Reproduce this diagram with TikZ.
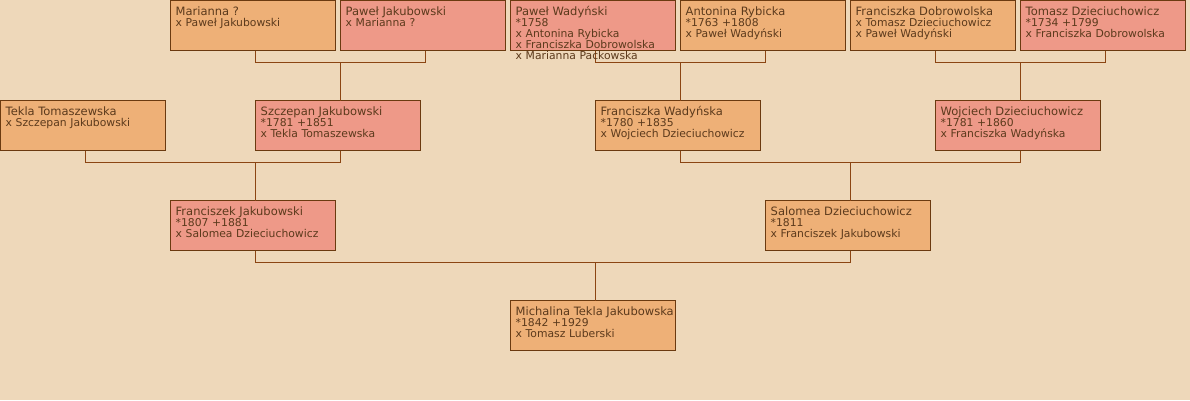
\documentclass[tikz,border=0pt]{standalone}
\usepackage{fontspec}
\setmainfont{DejaVu Sans}
\usepackage{tikz}
\usetikzlibrary{positioning, calc}

\definecolor{bgcol}{HTML}{EED8BA}
\definecolor{femfill}{HTML}{EEB077}
\definecolor{malefill}{HTML}{EE9988}
\definecolor{boxline}{HTML}{6B3A10}
\definecolor{linecol}{HTML}{8B4513}
\definecolor{txtcol}{HTML}{5C3A1C}

\newcommand{\namefont}{\fontsize{11.5}{11}\selectfont}
\newcommand{\infofont}{\fontsize{10.8}{11}\selectfont}

\begin{document}
\begin{tikzpicture}[
    x=1pt, y=-1pt,
    node distance=5pt,
    person/.style={rectangle, draw=boxline, line width=1pt, minimum width=165pt, minimum height=50pt, inner sep=0pt, outer sep=0pt, anchor=north west},
    female/.style={person, fill=femfill},
    male/.style={person, fill=malefill},
    info/.style={anchor=base west, text width=220pt, align=left, inner sep=0pt, text=txtcol, font=\infofont},
    link/.style={draw=linecol, line width=1pt}
]

\useasboundingbox (-0.5,-0.5) rectangle (1189.5,399.5);
\fill[bgcol] (-0.5,-0.5) rectangle (1189.5,399.5);

% Generation 1 (top row)
\node[female] (mar) at (170,0) {};
\node[male, right=of mar.north east, anchor=north west] (pja) {};
\node[male, right=of pja.north east, anchor=north west] (pwa) {};
\node[female, right=of pwa.north east, anchor=north west] (ary) {};
\node[female, right=of ary.north east, anchor=north west] (fdo) {};
\node[male, right=of fdo.north east, anchor=north west] (tdz) {};

% Generation 2
\node[female] (tto) at (0,100) {};
\node[male] (sja) at (255,100) {};
\node[female] (fwa) at (595,100) {};
\node[male] (wdz) at (935,100) {};

% Generation 3
\node[male] (fja) at (170,200) {};
\node[female] (sdz) at (765,200) {};

% Generation 4
\node[female] (mja) at (510,300) {};

% Family links
\draw[link] ([xshift=85pt]mar.south west) -- ++(0,12) coordinate (j1) -| ([xshift=85pt]pja.south west);
\draw[link] ([xshift=85pt]sja.north west) |- (j1);
\draw[link] ([xshift=85pt]pwa.south west) -- ++(0,12) coordinate (j2) -| ([xshift=85pt]ary.south west);
\draw[link] ([xshift=85pt]fwa.north west) |- (j2);
\draw[link] ([xshift=85pt]fdo.south west) -- ++(0,12) coordinate (j3) -| ([xshift=85pt]tdz.south west);
\draw[link] ([xshift=85pt]wdz.north west) |- (j3);
\draw[link] ([xshift=85pt]tto.south west) -- ++(0,12) coordinate (j4) -| ([xshift=85pt]sja.south west);
\draw[link] ([xshift=85pt]fja.north west) |- (j4);
\draw[link] ([xshift=85pt]fwa.south west) -- ++(0,12) coordinate (j5) -| ([xshift=85pt]wdz.south west);
\draw[link] ([xshift=85pt]sdz.north west) |- (j5);
\draw[link] ([xshift=85pt]fja.south west) -- ++(0,12) coordinate (j6) -| ([xshift=85pt]sdz.south west);
\draw[link] ([xshift=85pt]mja.north west) |- (j6);

% Texts
\node[info] (mar-t) at ([xshift=5pt,yshift=-14.5pt]mar.north west) {{\namefont Marianna ?}\\x Paweł Jakubowski};
\node[info] (pja-t) at ([xshift=5pt,yshift=-14.5pt]pja.north west) {{\namefont Paweł Jakubowski}\\x Marianna ?};
\node[info] (pwa-t) at ([xshift=5pt,yshift=-14.5pt]pwa.north west) {{\namefont Paweł Wadyński}\\{}*1758\\x Antonina Rybicka\\x Franciszka Dobrowolska\\x Marianna Packowska};
\node[info] (ary-t) at ([xshift=5pt,yshift=-14.5pt]ary.north west) {{\namefont Antonina Rybicka}\\{}*1763 +1808\\x Paweł Wadyński};
\node[info] (fdo-t) at ([xshift=5pt,yshift=-14.5pt]fdo.north west) {{\namefont Franciszka Dobrowolska}\\x Tomasz Dzieciuchowicz\\x Paweł Wadyński};
\node[info] (tdz-t) at ([xshift=5pt,yshift=-14.5pt]tdz.north west) {{\namefont Tomasz Dzieciuchowicz}\\{}*1734 +1799\\x Franciszka Dobrowolska};
\node[info] (tto-t) at ([xshift=5pt,yshift=-14.5pt]tto.north west) {{\namefont Tekla Tomaszewska}\\x Szczepan Jakubowski};
\node[info] (sja-t) at ([xshift=5pt,yshift=-14.5pt]sja.north west) {{\namefont Szczepan Jakubowski}\\{}*1781 +1851\\x Tekla Tomaszewska};
\node[info] (fwa-t) at ([xshift=5pt,yshift=-14.5pt]fwa.north west) {{\namefont Franciszka Wadyńska}\\{}*1780 +1835\\x Wojciech Dzieciuchowicz};
\node[info] (wdz-t) at ([xshift=5pt,yshift=-14.5pt]wdz.north west) {{\namefont Wojciech Dzieciuchowicz}\\{}*1781 +1860\\x Franciszka Wadyńska};
\node[info] (fja-t) at ([xshift=5pt,yshift=-14.5pt]fja.north west) {{\namefont Franciszek Jakubowski}\\{}*1807 +1881\\x Salomea Dzieciuchowicz};
\node[info] (sdz-t) at ([xshift=5pt,yshift=-14.5pt]sdz.north west) {{\namefont Salomea Dzieciuchowicz}\\{}*1811\\x Franciszek Jakubowski};
\node[info] (mja-t) at ([xshift=5pt,yshift=-14.5pt]mja.north west) {{\namefont Michalina Tekla Jakubowska}\\{}*1842 +1929\\x Tomasz Luberski};

\end{tikzpicture}
\end{document}
